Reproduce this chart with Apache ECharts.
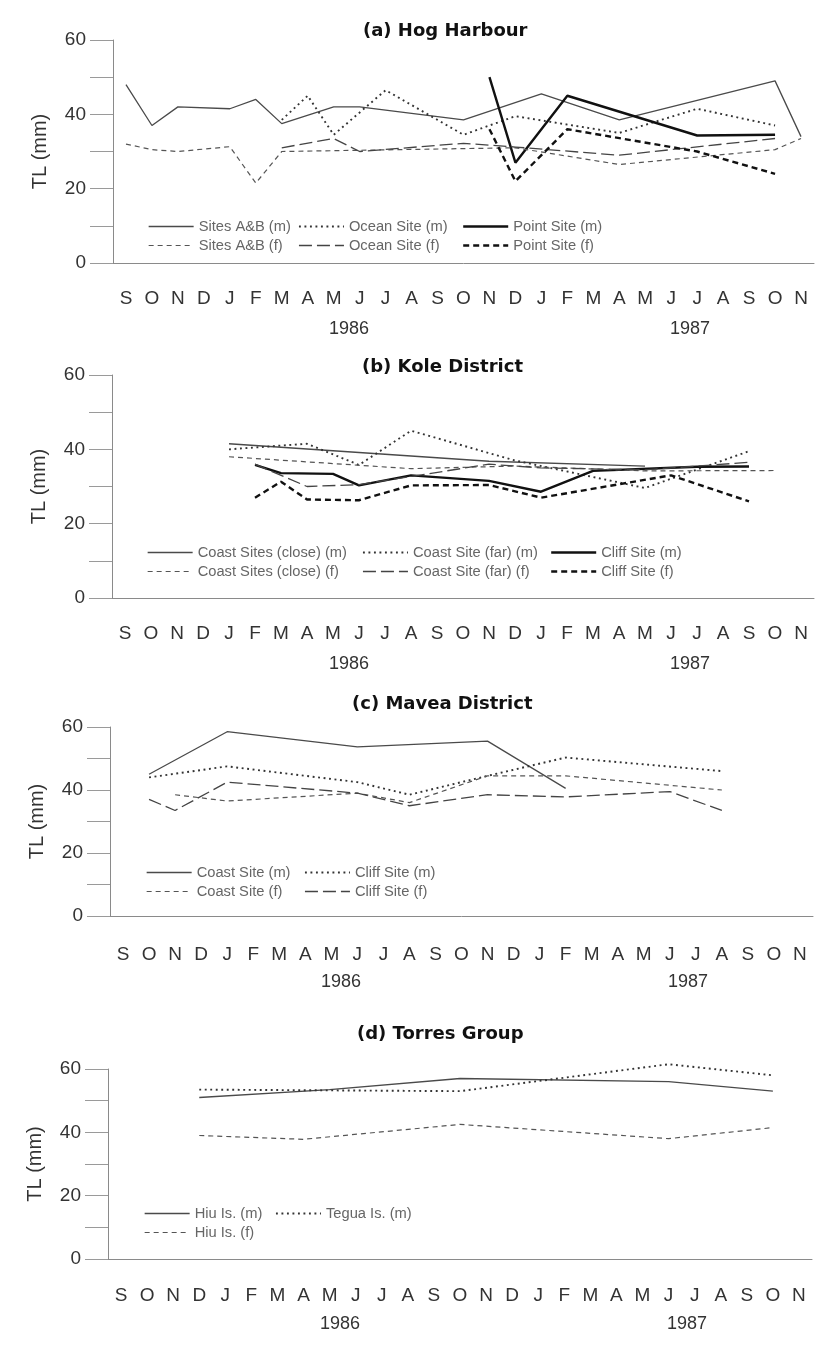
<!DOCTYPE html>
<html>
<head>
<meta charset="utf-8">
<script src="https://cdn.jsdelivr.net/npm/echarts@6/dist/echarts.min.js"></script>
<style>
html,body{margin:0;padding:0;background:#fff;}
#chart{width:839px;height:1351px;}
</style>
</head>
<body>
<div id="chart"></div>
<script>
// ---- categories (Sep 1985 .. Nov 1987) ----
const months = ['S','O','N','D','J','F','M','A','M','J','J','A','S','O','N','D','J','F','M','A','M','J','J','A','S','O','N'];
const yearLabels = ['1986','1987'];
const panelTitles = ['(a) Hog Harbour','(b) Kole District','(c) Mavea District','(d) Torres Group'];

// ---- (a) Hog Harbour ----
const sitesABm = [48,37,42,null,41.5,44,37.5,null,42,42,null,null,null,38.5,null,null,45.5,null,null,38.5,null,null,null,null,null,49,34];
const oceanM   = [null,null,null,null,null,null,38.5,45,34.5,null,46.5,null,null,34.5,null,39.5,null,null,null,35,null,null,41.5,null,null,37,null];
const pointM   = [null,null,null,null,null,null,null,null,null,null,null,null,null,null,50,27,null,45,null,null,null,null,34.3,null,null,34.5,null];
const sitesABf = [32,30.5,30,null,31.3,21.5,30,null,null,null,null,null,null,null,null,31,null,null,null,26.5,null,null,null,null,null,30.5,33.5];
const oceanF   = [null,null,null,null,null,null,31,null,33.5,30,null,null,null,32.2,null,31.2,null,null,null,29,null,null,null,null,null,33.5,null];
const pointF   = [null,null,null,null,null,null,null,null,null,null,null,null,null,null,36,22,null,36,null,null,null,null,30,null,null,24,null];

// ---- (b) Kole District ----
const coastCloseM = [null,null,null,null,41.5,null,null,null,null,null,null,null,null,null,36.8,null,null,null,null,null,35.5,null,null,null,null,null,null];
const coastFarM   = [null,null,null,null,40,null,null,41.5,null,35.8,null,45,null,null,null,37,null,null,null,null,29.6,null,null,null,39.5,null,null];
const cliffMb     = [null,null,null,null,null,35.8,33.6,null,33.4,30.3,null,33,null,null,31.5,null,28.6,null,34.2,null,null,null,35.3,null,35.4,null,null];
const coastCloseF = [null,null,null,null,38,null,null,null,null,null,null,34.8,null,null,null,35.5,null,null,null,null,34.2,null,null,null,null,34.3,null];
const coastFarF   = [null,null,null,null,null,36,null,30,null,30.5,null,null,null,null,36,null,35,null,null,null,34.5,null,null,null,36.5,null,null];
const cliffFb     = [null,null,null,null,null,27,31.3,26.5,null,26.3,null,30.3,null,null,30.4,null,27,null,null,null,null,33,null,null,26,null,null];

// ---- (c) Mavea District ----
const coastMc = [null,45,null,null,58.5,null,null,null,null,53.7,null,null,null,null,55.5,null,null,40.5,null,null,null,null,null,null,null,null,null];
const cliffMc = [null,44,null,null,47.5,null,null,null,null,42.5,null,38.5,null,null,44.5,null,null,50.3,null,null,null,null,null,46,null,null,null];
const coastFc = [null,null,38.5,null,36.5,null,null,null,null,39,null,36,null,null,44.5,null,null,44.5,null,null,null,null,null,40,null,null,null];
const cliffFc = [null,37,33.5,null,42.5,null,null,null,null,39,null,35,null,null,38.5,null,null,37.8,null,null,null,39.5,null,33.5,null,null,null];

// ---- (d) Torres Group ----
const hiuM   = [null,null,null,51,null,null,null,null,53.5,null,null,null,null,57,null,null,null,null,null,null,null,56,null,null,null,53,null];
const teguaM = [null,null,null,53.5,null,null,null,null,null,null,null,null,null,53,null,null,null,null,null,null,null,61.5,null,null,null,58,null];
const hiuF   = [null,null,null,39,null,null,null,37.8,null,null,null,null,null,42.5,null,null,null,null,null,null,null,38,null,null,null,41.5,null];

// ---- styles ----
const FONT = '"Liberation Sans", Arial, sans-serif';
const S = {
  thin:      {color:'#4a4a4a', width:1.3, type:'solid'},
  dotted:    {color:'#333', width:1.9, type:[1.9,3.6]},
  thick:     {color:'#111', width:2.4, type:'solid'},
  thinDash:  {color:'#555', width:1.2, type:[5,4]},
  longDash:  {color:'#444', width:1.3, type:[13,5]},
  thickDash: {color:'#111', width:2.4, type:[6,4]}
};

const panels = [
  {grid:{left:113, top:40, width:701, height:223}, title:{left:363, top:22}, labelMargin:26, tickLen:22,
   years:[[347,330],[688,330]],
   series:[['Sites A&B (m)',sitesABm,S.thin],['Ocean Site (m)',oceanM,S.dotted],['Point Site (m)',pointM,S.thick],
           ['Sites A&B (f)',sitesABf,S.thinDash],['Ocean Site (f)',oceanF,S.longDash],['Point Site (f)',pointF,S.thickDash]],
   legend:{top:219, cols:[[148,0,3],[298,1,4],[462,2,5]]}},
  {grid:{left:112, top:375, width:702, height:223}, title:{left:362, top:358}, labelMargin:26, tickLen:22,
   years:[[347,665],[688,665]],
   series:[['Coast Sites (close) (m)',coastCloseM,S.thin],['Coast Site (far) (m)',coastFarM,S.dotted],['Cliff Site (m)',cliffMb,S.thick],
           ['Coast Sites (close) (f)',coastCloseF,S.thinDash],['Coast Site (far) (f)',coastFarF,S.longDash],['Cliff Site (f)',cliffFb,S.thickDash]],
   legend:{top:545, cols:[[147,0,3],[362,1,4],[550,2,5]]}},
  {grid:{left:110, top:727, width:703, height:189}, title:{left:352, top:695}, labelMargin:29, tickLen:23,
   years:[[339,983],[686,983]],
   series:[['Coast Site (m)',coastMc,S.thin],['Cliff Site (m)',cliffMc,S.dotted],
           ['Coast Site (f)',coastFc,S.thinDash],['Cliff Site (f)',cliffFc,S.longDash]],
   legend:{top:865, cols:[[146,0,2],[304,1,3]]}},
  {grid:{left:108, top:1069, width:704, height:190}, title:{left:357, top:1025}, labelMargin:27, tickLen:24,
   years:[[338,1325],[685,1325]],
   series:[['Hiu Is. (m)',hiuM,S.thin],['Tegua Is. (m)',teguaM,S.dotted],['Hiu Is. (f)',hiuF,S.thinDash]],
   legend:{top:1206, cols:[[144,0,2],[275,1]]}}
];

const option = {
  backgroundColor:'#fff',
  animation:false,
  title:[], grid:[], xAxis:[], yAxis:[], series:[], legend:[], graphic:[]
};

panels.forEach((p, gi) => {
  option.title.push({text:panelTitles[gi], left:p.title.left, top:p.title.top, padding:0,
    textStyle:{fontFamily:'"DejaVu Sans", sans-serif', fontWeight:'bold', fontSize:18, color:'#111'}});
  option.grid.push(Object.assign({containLabel:false}, p.grid));
  option.xAxis.push({type:'category', gridIndex:gi, data:months, boundaryGap:true,
    axisLine:{lineStyle:{color:'#8a8a8a', width:1}},
    axisTick:{interval:0, length:p.tickLen, lineStyle:{color:'#9a9a9a'}},
    axisLabel:{interval:0, margin:p.labelMargin, fontSize:19, color:'#333', fontFamily:FONT},
    splitLine:{show:false}});
  option.yAxis.push({type:'value', gridIndex:gi, min:0, max:60, interval:10,
    name:'TL (mm)', nameLocation:'middle', nameGap:63,
    nameTextStyle:{fontSize:20, color:'#333', fontFamily:FONT},
    axisLine:{show:true, lineStyle:{color:'#8a8a8a', width:1}},
    axisTick:{show:true, length:23, lineStyle:{color:'#9a9a9a'}},
    axisLabel:{margin:27, fontSize:19, color:'#333', fontFamily:FONT,
      formatter: v => (v % 20 === 0 ? String(v) : '')},
    splitLine:{show:false}});
  p.series.forEach(([name, data, st]) => {
    option.series.push({type:'line', name, data, xAxisIndex:gi, yAxisIndex:gi,
      symbol:'none', connectNulls:true, clip:false, silent:true,
      itemStyle:{color:st.color},
      lineStyle:Object.assign({}, st)});
  });
  p.legend.cols.forEach(([left, ...idx]) => {
    option.legend.push({orient:'vertical', left, top:p.legend.top, padding:0,
      itemWidth:45, itemHeight:14, itemGap:4, selectedMode:false,
      itemStyle:{color:'rgba(0,0,0,0)', borderColor:'rgba(0,0,0,0)', borderWidth:0, opacity:0},
      textStyle:{fontSize:14.7, color:'#666', fontFamily:FONT},
      data: idx.map(i => {
        const [name,,st] = p.series[i];
        return {name, itemStyle:{opacity:0}, lineStyle:{color:st.color, width:st.width, type:st.type, opacity:1}};
      })});
  });
  p.years.forEach(([x,y], k) => {
    option.graphic.push({type:'text', left:x - 18, top:y - 10,
      style:{text:yearLabels[k], font:'18px ' + FONT, fill:'#333'}});
  });
});

const chart = echarts.init(document.getElementById('chart'), null, {renderer:'canvas'});
chart.setOption(option);
</script>
</body>
</html>
